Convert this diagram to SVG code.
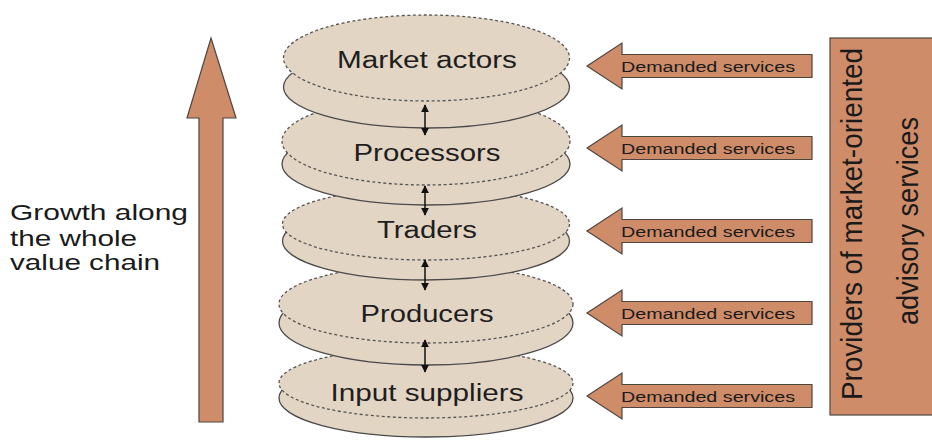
<svg xmlns="http://www.w3.org/2000/svg" width="932" height="440" viewBox="0 0 932 440">
<style>
.disc{fill:#e3d5c3}
.bot{fill:#e3d5c3;stroke:#4a4a4a;stroke-width:1.3}
.top{fill:#e3d5c3;stroke:#555;stroke-width:1.3;stroke-dasharray:3 2.5}
.lbl{font-family:"Liberation Sans",Arial,sans-serif;font-size:23px;fill:#1e1e1e;text-anchor:middle}
.ds{fill:#cf8c69;stroke:#4d4540;stroke-width:1.2}
.dst{font-family:"Liberation Sans",Arial,sans-serif;font-size:14px;fill:#1a1a1a}
.gt{font-family:"Liberation Sans",Arial,sans-serif;font-size:22px;fill:#1a1a1a}
.pt{font-family:"Liberation Sans",Arial,sans-serif;font-size:30px;fill:#1a1a1a;text-anchor:middle}
.conn{stroke:#111;stroke-width:1.5;fill:none}
</style>
<defs>
<marker id="ah" viewBox="0 0 10 10" refX="9" refY="5" markerWidth="8" markerHeight="8" orient="auto-start-reverse" markerUnits="userSpaceOnUse">
<path d="M0,0 L10,5 L0,10 z" fill="#111"/>
</marker>
</defs>
<rect width="932" height="440" fill="#ffffff"/>

<g id="growth-arrow">
<polygon class="ds" points="211,38 236,118 223,118 223,422 199,422 199,118 187,118"/>
<text class="gt" x="10" y="220" textLength="178" lengthAdjust="spacingAndGlyphs">Growth along</text>
<text class="gt" x="10" y="246" textLength="127" lengthAdjust="spacingAndGlyphs">the whole</text>
<text class="gt" x="10" y="270" textLength="150" lengthAdjust="spacingAndGlyphs">value chain</text>
</g>

<g id="input-suppliers">
<ellipse class="bot" cx="426" cy="398" rx="147" ry="39"/>
<ellipse class="top" cx="426" cy="383" rx="147" ry="35"/>
<text class="lbl" x="427" y="401" textLength="193" lengthAdjust="spacingAndGlyphs">Input suppliers</text>
</g>
<g id="producers">
<ellipse class="bot" cx="426" cy="323" rx="147" ry="42"/>
<ellipse class="top" cx="426" cy="304" rx="147" ry="39"/>
<text class="lbl" x="427" y="322" textLength="133" lengthAdjust="spacingAndGlyphs">Producers</text>
</g>
<g id="traders">
<ellipse class="bot" cx="426" cy="241" rx="143.5" ry="39"/>
<ellipse class="top" cx="426" cy="224" rx="143.5" ry="36"/>
<text class="lbl" x="427" y="238" textLength="100" lengthAdjust="spacingAndGlyphs">Traders</text>
</g>
<g id="processors">
<ellipse class="bot" cx="426" cy="164" rx="144" ry="41"/>
<ellipse class="top" cx="426" cy="141" rx="144" ry="44"/>
<text class="lbl" x="427" y="161" textLength="147" lengthAdjust="spacingAndGlyphs">Processors</text>
</g>
<g id="market-actors">
<ellipse class="bot" cx="426.5" cy="87" rx="143" ry="41"/>
<ellipse class="top" cx="426.5" cy="58" rx="143" ry="43"/>
<text class="lbl" x="427" y="68" textLength="180" lengthAdjust="spacingAndGlyphs">Market actors</text>
</g>

<g id="connectors">
<line class="conn" x1="425" y1="105" x2="425" y2="135" marker-start="url(#ah)" marker-end="url(#ah)"/>
<line class="conn" x1="425" y1="186" x2="425" y2="215" marker-start="url(#ah)" marker-end="url(#ah)"/>
<line class="conn" x1="425" y1="260" x2="425" y2="290" marker-start="url(#ah)" marker-end="url(#ah)"/>
<line class="conn" x1="425" y1="340" x2="425" y2="372" marker-start="url(#ah)" marker-end="url(#ah)"/>
</g>

<g id="demand-1">
<polygon class="ds" points="587,66 622,43 622,54.5 812,54.5 812,77.5 622,77.5 622,89"/>
<text class="dst" x="621" y="72" textLength="174" lengthAdjust="spacingAndGlyphs">Demanded services</text>
</g>
<g id="demand-2">
<polygon class="ds" points="587,148 622,125 622,136.5 812,136.5 812,159.5 622,159.5 622,171"/>
<text class="dst" x="621" y="154" textLength="174" lengthAdjust="spacingAndGlyphs">Demanded services</text>
</g>
<g id="demand-3">
<polygon class="ds" points="587,231 622,208 622,219.5 812,219.5 812,242.5 622,242.5 622,254"/>
<text class="dst" x="621" y="237" textLength="174" lengthAdjust="spacingAndGlyphs">Demanded services</text>
</g>
<g id="demand-4">
<polygon class="ds" points="587,313 622,290 622,301.5 812,301.5 812,324.5 622,324.5 622,336"/>
<text class="dst" x="621" y="319" textLength="174" lengthAdjust="spacingAndGlyphs">Demanded services</text>
</g>
<g id="demand-5">
<polygon class="ds" points="587,396 622,373 622,384.5 812,384.5 812,407.5 622,407.5 622,419"/>
<text class="dst" x="621" y="402" textLength="174" lengthAdjust="spacingAndGlyphs">Demanded services</text>
</g>

<g id="providers">
<rect class="ds" x="830" y="38" width="110" height="377"/>
<text class="pt" x="862" y="224" transform="rotate(-90 862 224)" textLength="352" lengthAdjust="spacingAndGlyphs">Providers of market-oriented</text>
<text class="pt" x="918" y="221" transform="rotate(-90 918 221)" textLength="208" lengthAdjust="spacingAndGlyphs">advisory services</text>
</g>
</svg>
